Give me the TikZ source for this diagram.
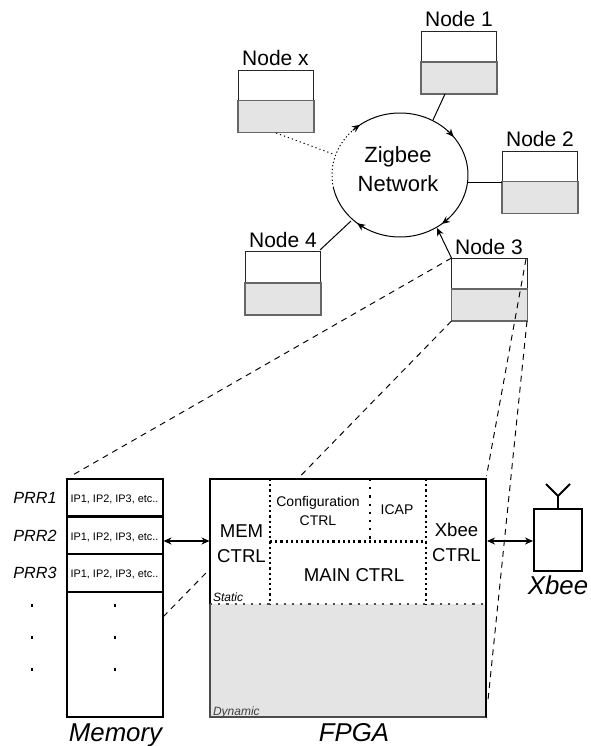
\documentclass[tikz,border=0pt]{standalone}
\usepackage{fontspec}
\setmainfont{Liberation Sans}
\usetikzlibrary{arrows.meta,shapes.geometric}
\definecolor{dyn}{HTML}{E4E4E4}
\definecolor{ink}{HTML}{000000}
\newcommand{\fs}[1]{\fontsize{#1}{#1}\selectfont}
\tikzset{
  x=1pt,y=-1pt,
  every node/.style={text=ink},
  lbl/.style={anchor=base,inner sep=0pt,outer sep=0pt},
  box/.style={anchor=north west,rectangle,inner sep=0pt,outer sep=0pt},
  nodetop/.style={box,draw=ink!85,line width=0.9pt,fill=white,minimum width=75.5pt,minimum height=31pt},
  nodelow/.style={box,draw=black!60,line width=1.3pt,fill=dyn,minimum width=76pt,minimum height=32pt},
  nodetitle/.style={lbl,font=\fs{21}},
  link/.style={draw=ink,line width=1pt},
  tip/.style={-{Stealth[length=8pt,width=7pt]}},
  zoomline/.style={draw=ink,line width=0.95pt,dash pattern=on 6pt off 5pt},
  dots/.style={draw=ink,line width=2.2pt,dash pattern=on 2.2pt off 3pt},
  thickbox/.style={box,draw=ink,line width=2pt,fill=white},
  big/.style={lbl,font=\fs{18.6}},
  small/.style={lbl,font=\fs{14}},
  ip/.style={lbl,font=\fs{10.9}},
  prr/.style={lbl,font=\fs{16.2}\itshape},
  caption/.style={lbl,font=\fs{25.8}\itshape},
  region/.style={lbl,anchor=base west,font=\fs{12}\itshape},
  dbl/.style={draw=ink,line width=1.2pt,{Stealth[length=8pt,width=7pt]}-{Stealth[length=8pt,width=7pt]}},
}
\newcommand{\ringtip}[1]{\draw[link,tip] plot[domain=#1-8:#1,samples=5] ({400+68*cos(\x)},{175+62*sin(\x)});}
\begin{document}
\begin{tikzpicture}
\useasboundingbox (0,0) rectangle (590,746);
% network ring
\node[ellipse,minimum width=137pt,minimum height=124pt,inner sep=0pt,outer sep=0pt] (net) at (400,175) {};
% stations
\node[nodetop] (n1) at (421,31) {};
\node[nodelow] (n1g) at (421,62) {};
\node[nodetop] (nx) at (238,70) {};
\node[nodelow] (nxg) at (238,100.5) {};
\node[nodetop] (n2) at (502,151) {};
\node[nodelow] (n2g) at (502,181.5) {};
\node[nodetop] (n3) at (451.5,258) {};
\node[nodelow] (n3g) at (451.5,289) {};
\node[nodetop] (n4) at (245,251) {};
\node[nodelow] (n4g) at (245,283) {};
\node[nodetitle] (t1) at (459,27) {Node 1};
\node[nodetitle] (tx) at (275.5,66) {Node x};
\node[nodetitle] (t2) at (540,147) {Node 2};
\node[nodetitle] (t3) at (489,254) {Node 3};
\node[nodetitle] (t4) at (283,247) {Node 4};
% connection ends
\coordinate (c1a) at (445,94);
\coordinate (c1b) at (433,120);
\coordinate (c2a) at (502,182);
\coordinate (c2b) at (468,182);
\coordinate (c3a) at (451.5,258);
\coordinate (c3b) at (437,228);
\coordinate (c4a) at (320,250);
\coordinate (c4b) at (351,221);
\coordinate (cxa) at (276,133);
\coordinate (cxb) at (333,154);
\draw[link] (c1a) -- (c1b);
\draw[link] (c2a) -- (c2b);
\draw[link,tip] (c3a) -- (c3b);
\draw[link] (c4a) -- (c4b);
\draw[draw=ink,line width=1pt,dash pattern=on 1.2pt off 3pt] (cxa) -- (cxb);
\draw[link] plot[domain=232:528,samples=120] ({400+68*cos(\x)},{175+62*sin(\x)});
\draw[draw=ink,line width=1pt,dash pattern=on 1.2pt off 2.4pt] plot[domain=168:232,samples=40] ({400+68*cos(\x)},{175+62*sin(\x)});
\ringtip{234}
\ringtip{322}
\ringtip{52}
\ringtip{129}
\node[lbl,font=\fs{22}] (zig) at (398,163) {Zigbee};
\node[lbl,font=\fs{22}] (netw) at (398,191) {Network};
% zoom lines
\coordinate (z1) at (71,476);
\coordinate (z2) at (163,617);
\coordinate (z3) at (486.5,476);
\coordinate (z4) at (488,700);
\coordinate (n3tl) at (451.5,258);
\coordinate (n3bl) at (451.5,321);
\coordinate (n3tr) at (526,259);
\coordinate (n3br) at (527,321);
\draw[zoomline] (n3tl) -- (z1);
\draw[zoomline] (n3bl) -- (z2);
\draw[zoomline] (n3tr) -- (z3);
\draw[zoomline] (n3br) -- (z4);
% memory
\node[thickbox,minimum width=96pt,minimum height=238pt] (mem) at (67,479) {};
\coordinate (m1a) at (67,515.5);\coordinate (m1b) at (163,515.5);
\coordinate (m1c) at (67,517);\coordinate (m1d) at (163,517);
\coordinate (m2a) at (67,554);\coordinate (m2b) at (163,554);
\coordinate (m3a) at (67,592);\coordinate (m3b) at (163,592);
\draw[draw=ink,line width=1.8pt] (m1a) -- (m1b) (m1c) -- (m1d);
\draw[draw=ink,line width=2pt] (m2a) -- (m2b);
\draw[draw=ink,line width=2pt] (m3a) -- (m3b);
\node[ip] (ip1) at (114.5,502) {IP1, IP2, IP3, etc..};
\node[ip] (ip2) at (114.5,540) {IP1, IP2, IP3, etc..};
\node[ip] (ip3) at (114.5,577.5) {IP1, IP2, IP3, etc..};
\node[prr] (p1) at (35,503) {PRR1};
\node[prr] (p2) at (35,541) {PRR2};
\node[prr] (p3) at (35,578) {PRR3};
\foreach \yy in {605.5,637.5,669.5}{
  \fill[ink] (31,\yy-1.2) rectangle (33.4,\yy+1.2);
  \fill[ink] (113.5,\yy-1.2) rectangle (115.9,\yy+1.2);
}
\node[caption] (memcap) at (115.5,741) {Memory};
% FPGA
\node[box,fill=white,draw=ink,line width=1.2pt,minimum width=276pt,minimum height=238pt] (fpga) at (210,479) {};
\coordinate (dl) at (210,604);
\coordinate (dr) at (486,604);
\coordinate (bl) at (210,717);
\coordinate (br) at (486,717);
\coordinate (tl) at (210,479);
\coordinate (tr) at (486,479);
\fill[dyn] (dl) rectangle (br);
\draw[draw=black!70,line width=1.2pt] (dl) -- (bl) -- (br);
\draw[draw=ink,line width=2pt] (tl) -- (tr) -- (br);
\coordinate (v1t) at (270,479);\coordinate (v1b) at (270,604);
\coordinate (h1l) at (270,541.5);\coordinate (h1r) at (426,541.5);
\coordinate (v2t) at (370,479);\coordinate (v2b) at (370,541.5);
\coordinate (v3t) at (426,479);\coordinate (v3b) at (426,604);
\draw[dots] (v1t) -- (v1b);
\draw[dots] (h1l) -- (h1r);
\draw[dots,dash pattern=on 2.2pt off 6pt] (v2t) -- (v2b);
\draw[dots] (v3t) -- (v3b);
\draw[draw=black!70,line width=2.2pt,dash pattern=on 2.2pt off 6pt] (dl) -- (dr);
\node[big] (memt) at (241.5,537) {MEM};
\node[big] (memc) at (241.5,562) {CTRL};
\node[small] (conf) at (318,506.5) {Configuration};
\node[small] (confc) at (318,525.5) {CTRL};
\node[small] (icap) at (397,514) {ICAP};
\node[big] (main) at (354,581.5) {MAIN CTRL};
\node[big] (xb) at (456.5,536.5) {Xbee};
\node[big] (xbc) at (456.5,561.5) {CTRL};
\node[region] (stat) at (213,601.5) {Static};
\node[region,text=black!75] (dynt) at (213,715) {Dynamic};
\node[caption] (fcap) at (354,741.5) {FPGA};
% radio
\node[box,draw=ink,line width=2pt,fill=white,minimum width=48pt,minimum height=62pt] (xbee) at (534,509) {};
\coordinate (ant) at (558,496);
\coordinate (antl) at (546,484);
\coordinate (antr) at (570,484);
\draw[draw=ink,line width=1.8pt] (xbee.north) -- (ant) -- (antl) (ant) -- (antr);
\node[caption] (xcap) at (558,594) {Xbee};
% links
\coordinate (am) at (163.5,541);
\coordinate (af) at (209.5,541);
\coordinate (bf) at (487,541);
\coordinate (bx) at (533,541);
\draw[dbl] (am) -- (af);
\draw[dbl] (bf) -- (bx);
\end{tikzpicture}
\end{document}
